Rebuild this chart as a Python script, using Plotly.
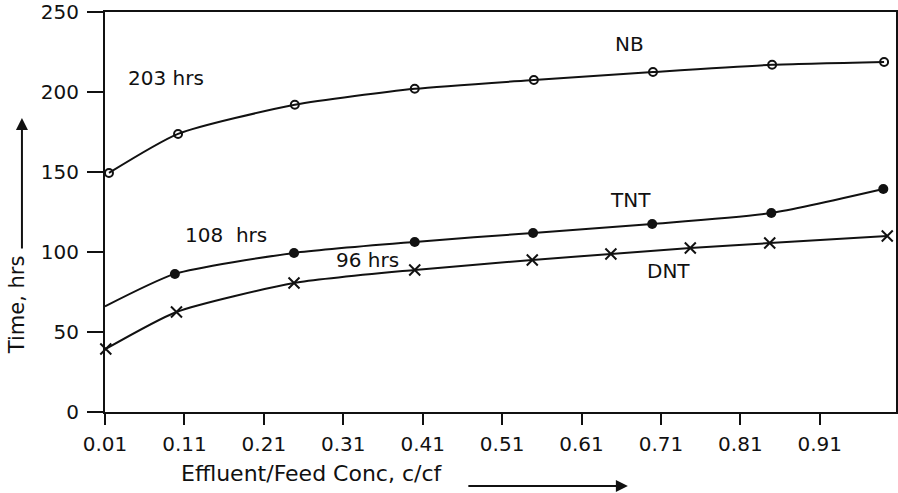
import plotly.graph_objects as go

# ---------------- data ----------------
nb_x = [0.015, 0.102, 0.249, 0.400, 0.550, 0.700, 0.850, 0.991]
nb_y = [149.4, 173.8, 192.0, 202.0, 207.5, 212.5, 217.0, 218.8]

tnt_x = [0.01, 0.098, 0.248, 0.400, 0.549, 0.699, 0.849, 0.990]
tnt_y = [66.0, 86.3, 99.4, 106.3, 111.9, 117.5, 124.4, 139.4]

dnt_x = [0.011, 0.100, 0.248, 0.400, 0.548, 0.647, 0.747, 0.847, 0.995]
dnt_y = [39.4, 62.5, 80.6, 88.8, 95.0, 98.8, 102.5, 105.6, 110.0]

x_ticks = [0.01, 0.11, 0.21, 0.31, 0.41, 0.51, 0.61, 0.71, 0.81, 0.91]
x_tick_labels = ["0.01", "0.11", "0.21", "0.31", "0.41", "0.51", "0.61", "0.71", "0.81", "0.91"]
y_ticks = [0, 50, 100, 150, 200, 250]

labels = ["203 hrs", "NB", "108  hrs", "TNT", "96 hrs", "DNT"]
label_x = [0.087, 0.670, 0.162, 0.672, 0.341, 0.720]
label_y = [208.8, 230.0, 110.6, 132.5, 95.0, 88.1]

x_title = "Effluent/Feed Conc, c/cf"
y_title = "Time, hrs"

FONT = "DejaVu Sans"
INK = "#111111"

fig = go.Figure()

# NB
fig.add_trace(go.Scatter(x=nb_x, y=nb_y, mode="lines+markers", cliponaxis=False,
                         line=dict(color=INK, width=2, shape="spline", smoothing=0.6),
                         marker=dict(symbol="circle-open", size=8, color=INK,
                                     line=dict(width=2, color=INK)),
                         showlegend=False, hoverinfo="skip"))
# TNT line (first point has no marker)
fig.add_trace(go.Scatter(x=tnt_x, y=tnt_y, mode="lines", cliponaxis=False,
                         line=dict(color=INK, width=2, shape="spline", smoothing=0.6),
                         showlegend=False, hoverinfo="skip"))
fig.add_trace(go.Scatter(x=tnt_x[1:], y=tnt_y[1:], mode="markers", cliponaxis=False,
                         marker=dict(symbol="circle", size=10, color=INK),
                         showlegend=False, hoverinfo="skip"))
# DNT
fig.add_trace(go.Scatter(x=dnt_x, y=dnt_y, mode="lines+markers", cliponaxis=False,
                         line=dict(color=INK, width=2, shape="spline", smoothing=0.6),
                         marker=dict(symbol="x-thin", size=11, color=INK,
                                     line=dict(width=2, color=INK)),
                         showlegend=False, hoverinfo="skip"))

for t, xx, yy in zip(labels, label_x, label_y):
    fig.add_annotation(x=xx, y=yy, text=t, showarrow=False,
                       xanchor="center", yanchor="middle",
                       font=dict(family=FONT, size=20, color=INK))

# axis titles
fig.add_annotation(xref="paper", yref="paper", x=0.262, y=-0.1525, text=x_title,
                   xanchor="center", yanchor="middle",
                   showarrow=False, font=dict(family=FONT, size=22, color=INK))
fig.add_annotation(xref="paper", yref="paper", x=-0.111, y=0.2675, text=y_title,
                   xanchor="center", yanchor="middle",
                   textangle=-90, showarrow=False, font=dict(family=FONT, size=21, color=INK))
# arrows
fig.add_annotation(xref="paper", yref="paper", x=0.661, y=-0.185, ax=-161, ay=0,
                   text="", showarrow=True, arrowhead=2, arrowsize=1.2, arrowwidth=2,
                   arrowcolor=INK)
fig.add_annotation(xref="paper", yref="paper", x=-0.105, y=0.735, ax=0, ay=132,
                   text="", showarrow=True, arrowhead=2, arrowsize=1.2, arrowwidth=2,
                   arrowcolor=INK)

fig.update_xaxes(range=[0.01, 1.006], tickvals=x_ticks, ticktext=x_tick_labels,
                 showgrid=False, zeroline=False, showline=True, linecolor=INK, linewidth=2,
                 mirror=True, ticks="outside", ticklen=11, tickwidth=2, tickcolor=INK,
                 tickfont=dict(family=FONT, size=20, color=INK), ticklabelstandoff=2)
fig.update_yaxes(range=[0, 250], tickvals=y_ticks,
                 showgrid=False, zeroline=False, showline=True, linecolor=INK, linewidth=2,
                 mirror=True, ticks="outside", ticklen=16, tickwidth=2, tickcolor=INK,
                 tickfont=dict(family=FONT, size=20, color=INK), ticklabelstandoff=4)

fig.update_layout(width=898, height=493, margin=dict(l=105, r=2, t=12, b=81, autoexpand=False),
                  plot_bgcolor="white", paper_bgcolor="white")

fig.write_html("out.html", config={"displayModeBar": False},
               post_script="document.body.style.margin='0';")
